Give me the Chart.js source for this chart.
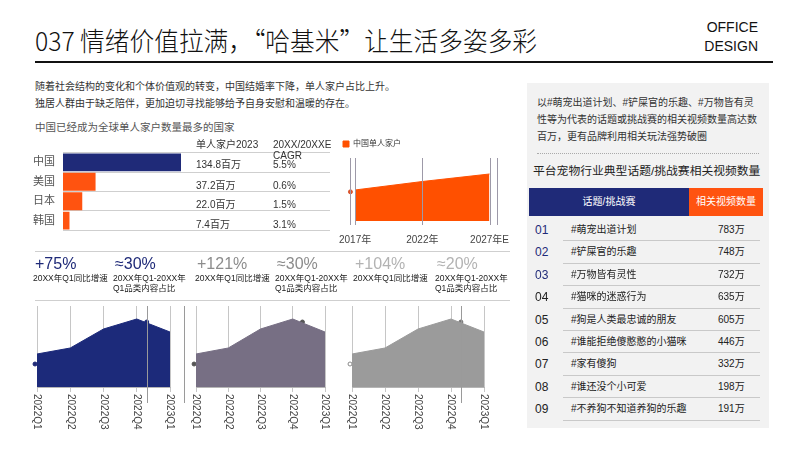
<!DOCTYPE html>
<html lang="zh">
<head>
<meta charset="utf-8">
<script src="https://cdn.jsdelivr.net/npm/chart.js@4.4.1/dist/chart.umd.min.js"></script>
<style>
  html, body { margin: 0; padding: 0; background: #fff; }
  body {
    width: 800px; height: 450px; position: relative; overflow: hidden;
    font-family: "Liberation Sans", "Noto Sans CJK SC", sans-serif; color: #222;
  }
  .abs { position: absolute; white-space: nowrap; }
  canvas { position: absolute; }
  .title {
    left: 35px; top: 26px; font-size: 26px; line-height: 28px; color: #111; font-weight: 300;
    font-family: "Noto Sans CJK SC", sans-serif;
    transform: scaleX(0.95); transform-origin: left center;
  }
  .brand { right: 42px; top: 18px; font-size: 14px; line-height: 19px; text-align: right; color: #111; }
  .rule { left: 35px; top: 61px; width: 738px; height: 2px; background: #111; }
  .intro { left: 35px; top: 78px; font-size: 10px; line-height: 17px; color: #333; }
  .sub { left: 35px; top: 121px; font-size: 10.5px; line-height: 12px; color: #555; }
  .col { font-size: 10px; line-height: 11px; color: #333; }
  .divider { left: 35px; width: 475px; height: 1px; background: #cfcfcf; }
  .stat { font-size: 16px; line-height: 18px; }
  .note { font-size: 8.5px; line-height: 10px; color: #222; }
  .panel { left: 527px; top: 83px; width: 242px; height: 345px; background: #f2f2f2; }
  .pintro { left: 537px; top: 94px; font-size: 10px; line-height: 17px; color: #333; }
  .dots { left: 537px; top: 153px; width: 222px; border-top: 1px dotted #aaa; }
  .ptitle { left: 533px; top: 164px; font-size: 11.8px; line-height: 14px; color: #222; }
  .th { top: 188px; height: 28px; line-height: 28px; color: #fff; font-size: 10px; text-align: center; }
  .row { left: 529px; width: 234px; height: 22.4px; }
  .row .rk { position: absolute; left: 6px; top: 4px; font-size: 12px; line-height: 14px; }
  .row .nm { position: absolute; left: 42px; top: 5px; font-size: 10px; line-height: 12px; color: #222; }
  .row .vw { position: absolute; left: 189px; top: 5px; font-size: 10px; line-height: 12px; color: #222; }
  .row .ln { position: absolute; left: 34px; right: 3px; bottom: 0; height: 1px; background: #c9c9c9; }
</style>
</head>
<body>

<div class="abs title">037 情绪价值拉满，“哈基米”让生活多姿多彩</div>
<div class="abs brand">OFFICE<br>DESIGN</div>
<div class="abs rule"></div>
<div class="abs intro">随着社会结构的变化和个体价值观的转变，中国结婚率下降，单人家户占比上升。<br>独居人群由于缺乏陪伴，更加迫切寻找能够给予自身安慰和温暖的存在。</div>
<div class="abs sub">中国已经成为全球单人家户数量最多的国家</div>

<canvas id="barChart" width="310" height="91" style="left:25px; top:146px;"></canvas>
<div id="barCols"></div>

<canvas id="trendChart" width="188" height="133" style="left:330px; top:125px;"></canvas>

<div class="abs divider" style="top:251px;"></div>
<div id="stats"></div>
<div class="abs divider" style="top:300px;"></div>

<canvas id="q1" width="173" height="132" style="left:25px; top:300px;"></canvas>
<canvas id="q2" width="169" height="132" style="left:184px; top:300px;"></canvas>
<canvas id="q3" width="172" height="132" style="left:340px; top:300px;"></canvas>

<div class="abs panel"></div>
<div class="abs pintro">以#萌宠出道计划、#铲屎官的乐趣、#万物皆有灵<br>性等为代表的话题或挑战赛的相关视频数量高达数<br>百万，更有品牌利用相关玩法强势破圈</div>
<div class="abs dots"></div>
<div class="abs ptitle">平台宠物行业典型话题/挑战赛相关视频数量</div>
<div class="abs th" style="left:529px; width:160px; background:#1f2a78;">话题/挑战赛</div>
<div class="abs th" style="left:689px; width:74px; background:#ff5310;">相关视频数量</div>
<div id="topics"></div>

<script>
// 单人家户 2023
const countries = ['中国', '美国', '日本', '韩国'];
const households2023 = [134.8, 37.2, 22.0, 7.4];
const cagr = ['5.5%', '0.6%', '1.5%', '3.1%'];

// 中国单人家户趋势
const years = ['2017年', '2022年', '2027年E'];
const singleHouseholds = [33, 42, 50];
const trendMarkers = [{ x: -0.07, y: 31 }, { x: 2.11, y: 48 }];

// 指标
const statValues = ['+75%', '≈30%', '+121%', '≈30%', '+104%', '≈20%'];
const statNotes = [
  '20XX年Q1同比增速', '20XX年Q1-20XX年<br>Q1品类内容占比',
  '20XX年Q1同比增速', '20XX年Q1-20XX年<br>Q1品类内容占比',
  '20XX年Q1同比增速', '20XX年Q1-20XX年<br>Q1品类内容占比'
];

// 季度趋势
const quarters = ['2022Q1', '2022Q2', '2022Q3', '2022Q4', '2023Q1'];
const quarterTrend = [33, 39, 58, 68, 55];
const markerX = [-0.06, 1.05, 2.2, 3.3, 4.43];
const markerY = [23, 30, 53, 65, 49];

// 话题/挑战赛
const topicRank = ['01', '02', '03', '04', '05', '06', '07', '08', '09'];
const topicNames = ['#萌宠出道计划', '#铲屎官的乐趣', '#万物皆有灵性', '#猫咪的迷惑行为', '#狗是人类最忠诚的朋友',
  '#谁能拒绝傻憨憨的小猫咪', '#家有傻狗', '#谁还没个小可爱', '#不养狗不知道养狗的乐趣'];
const topicViews = [783, 748, 732, 635, 605, 446, 332, 198, 191];

const NAVY = '#1f2a78';
const ORANGE = '#ff5310';
Chart.defaults.font.family = '"Liberation Sans", "Noto Sans CJK SC", sans-serif';
Chart.defaults.animation = false;

// Bar chart
new Chart(document.getElementById('barChart'), {
  type: 'bar',
  data: {
    labels: countries,
    datasets: [{
      data: households2023,
      backgroundColor: [NAVY, ORANGE, ORANGE, ORANGE],
      barPercentage: 1,
      categoryPercentage: 0.92
    }]
  },
  options: {
    indexAxis: 'y',
    responsive: false,
    layout: { padding: { left: 8, right: 5, top: 0, bottom: 0 } },
    plugins: { legend: { display: false }, tooltip: { enabled: false } },
    scales: {
      x: { display: false, min: 0, max: 305 },
      y: {
        grid: { color: '#cfcfcf', tickLength: 8, tickColor: 'rgba(0,0,0,0)', offset: true },
        border: { display: false },
        ticks: { color: '#555', font: { size: 11 }, padding: 0 }
      }
    }
  }
});

const barCols = document.getElementById('barCols');
const colRows = [164, 185, 204, 224];
let colHtml = '<div class="abs col" style="left:196px; top:139px;">单人家户2023</div>' +
  '<div class="abs col" style="left:273px; top:139px;">20XX/20XXE<br>CAGR</div>';
households2023.forEach((v, i) => {
  colHtml += `<div class="abs col" style="left:196px; top:${colRows[i] - 5}px;">${v.toFixed(1)}百万</div>`;
  colHtml += `<div class="abs col" style="left:273px; top:${colRows[i] - 5}px;">${cagr[i]}</div>`;
});
barCols.innerHTML = colHtml;

// vertical rules at the year ticks and through the markers
const yearRules = {
  id: 'yearRules',
  afterDatasetDraw(chart, args) {
    if (args.index !== 0) return;
    const { ctx, chartArea } = chart;
    const xs = chart.scales.x;
    const xd = chart.scales.xd;
    const pos = xs.ticks.map((t, i) => xs.getPixelForTick(i))
      .concat(trendMarkers.map(m => xd.getPixelForValue(m.x)));
    ctx.save();
    ctx.strokeStyle = '#9d99a8';
    ctx.lineWidth = 1;
    pos.forEach(x => {
      const px = Math.round(x) + 0.5;
      ctx.beginPath();
      ctx.moveTo(px, chartArea.top);
      ctx.lineTo(px, chartArea.bottom + 4);
      ctx.stroke();
    });
    ctx.restore();
  }
};

// Orange trend chart
new Chart(document.getElementById('trendChart'), {
  type: 'line',
  data: {
    labels: years,
    datasets: [
      {
        label: '中国单人家户',
        data: singleHouseholds,
        fill: 'origin',
        backgroundColor: '#ff5000',
        borderColor: '#ff5000',
        borderWidth: 1,
        pointRadius: 0,
        tension: 0
      },
      {
        type: 'scatter',
        label: 'marker',
        data: trendMarkers,
        xAxisID: 'xd',
        backgroundColor: '#d9552e',
        borderColor: '#d9552e',
        pointRadius: 2,
        clip: false
      }
    ]
  },
  options: {
    responsive: false,
    layout: { padding: { left: 2, right: 25, top: 4, bottom: 3 } },
    plugins: {
      tooltip: { enabled: false },
      legend: {
        align: 'start',
        labels: {
          boxWidth: 6, boxHeight: 6, padding: 11,
          font: { size: 8 }, color: '#333',
          filter: item => item.datasetIndex === 0
        }
      }
    },
    scales: {
      x: {
        offset: false,
        grid: { display: false, tickLength: 4 },
        border: { display: false },
        ticks: { color: '#444', font: { size: 10 }, padding: 9, maxRotation: 0, autoSkip: false }
      },
      xd: { type: 'linear', display: false, min: 0, max: 2 },
      y: {
        min: 0, max: 67,
        ticks: { display: false },
        grid: { display: false },
        border: { display: false },
        afterFit: axis => { axis.width = 20; }
      }
    }
  },
  plugins: [yearRules]
});

// Stats row
const statLeft = [35, 115, 197, 277, 355, 437];
const statColors = [NAVY, NAVY, '#8c8c8c', '#8c8c8c', '#b3b3b3', '#b3b3b3'];
let statHtml = '';
statValues.forEach((v, i) => {
  statHtml += `<div class="abs stat" style="left:${statLeft[i]}px; top:255px; color:${statColors[i]};">${v}</div>`;
  statHtml += `<div class="abs note" style="left:${statLeft[i] - 2}px; top:273px;">${statNotes[i]}</div>`;
});
document.getElementById('stats').innerHTML = statHtml;

// Quarterly area charts
const downLabels = {
  id: 'downLabels',
  afterDraw(chart) {
    const xs = chart.scales.x;
    const ctx = chart.ctx;
    ctx.save();
    ctx.font = '10px "Liberation Sans", sans-serif';
    ctx.fillStyle = '#444';
    ctx.textBaseline = 'middle';
    ctx.textAlign = 'left';
    xs.ticks.forEach((t, i) => {
      ctx.save();
      ctx.translate(xs.getPixelForTick(i), xs.bottom + 2);
      ctx.rotate(Math.PI / 2);
      ctx.fillText(xs.getLabelForValue(t.value), 0, 0);
      ctx.restore();
    });
    ctx.restore();
  }
};

// long rules through some of the markers
const markerRules = {
  id: 'markerRules',
  afterDatasetsDraw(chart, args, opts) {
    const xs = chart.scales.xs;
    const { ctx, chartArea } = chart;
    ctx.save();
    ctx.strokeStyle = '#9a9a9a';
    ctx.lineWidth = 1;
    (opts.idx || []).forEach(i => {
      const px = Math.round(xs.getPixelForValue(markerX[i])) + 0.5;
      ctx.beginPath();
      ctx.moveTo(px, chartArea.top);
      ctx.lineTo(px, chartArea.bottom + 16);
      ctx.stroke();
    });
    ctx.restore();
  }
};

function quarterChart(id, color, dotFill, dotBorder, rules) {
  new Chart(document.getElementById(id), {
    type: 'line',
    data: {
      labels: quarters,
      datasets: [
        {
          data: quarterTrend,
          fill: 'origin',
          backgroundColor: color,
          borderColor: color,
          borderWidth: 1,
          pointRadius: 0,
          tension: 0
        },
        {
          type: 'scatter',
          data: markerX.map((x, i) => ({ x, y: markerY[i] })),
          xAxisID: 'xs',
          backgroundColor: dotFill,
          borderColor: dotBorder,
          borderWidth: 1,
          pointRadius: 2,
          clip: false
        }
      ]
    },
    options: {
      responsive: false,
      layout: { padding: { left: 12, right: 28, top: 6, bottom: 40 } },
      plugins: { legend: { display: false }, tooltip: { enabled: false }, markerRules: { idx: rules } },
      scales: {
        x: {
          offset: false,
          grid: { color: '#c6c6c6', tickLength: 5 },
          border: { color: '#b5b5b5' },
          ticks: { display: false }
        },
        xs: { type: 'linear', display: false, min: 0, max: 4 },
        y: { display: false, min: 0, max: 81 }
      }
    },
    plugins: [downLabels, markerRules]
  });
}

const open = 'rgba(0,0,0,0)';
quarterChart('q1', '#1c2a7a', [NAVY, open, open, NAVY, NAVY], [NAVY, '#bdbdbd', '#bdbdbd', NAVY, NAVY], [3, 4]);
quarterChart('q2', '#776f84', ['#555', open, open, '#555', '#555'], ['#555', '#c4c4c4', '#c4c4c4', '#555', '#555'], []);
quarterChart('q3', '#9b9b9b', [open, open, open, '#777', '#777'], ['#888', '#888', '#888', '#777', '#777'], [3]);

// Topic table
let topicHtml = '';
topicNames.forEach((name, i) => {
  const top = 219 + i * 22.4;
  const rkColor = i < 3 ? NAVY : '#222';
  topicHtml += `<div class="abs row" style="top:${top}px;">` +
    `<span class="rk" style="color:${rkColor};">${topicRank[i]}</span>` +
    `<span class="nm">${name}</span>` +
    `<span class="vw">${topicViews[i]}万</span>` +
    `<span class="ln"></span></div>`;
});
document.getElementById('topics').innerHTML = topicHtml;
</script>
</body>
</html>
